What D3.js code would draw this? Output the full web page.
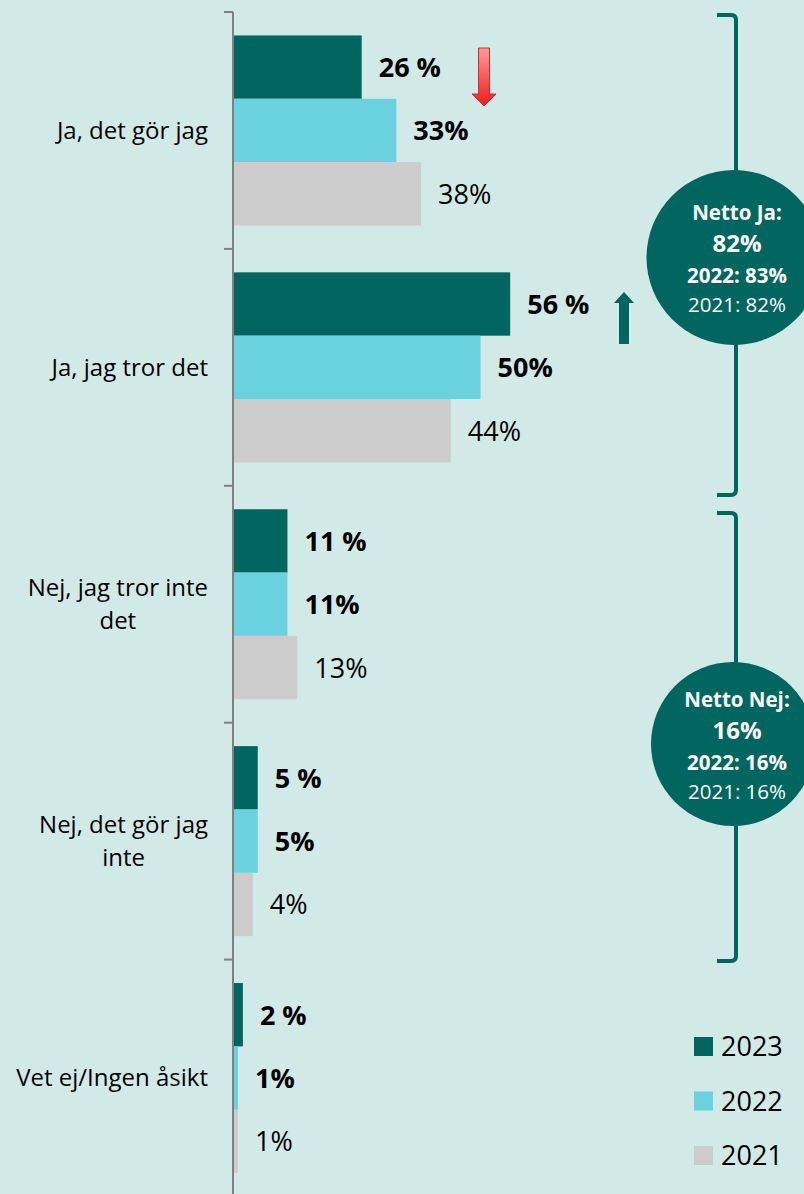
<!DOCTYPE html>
<html><head><meta charset="utf-8">
<script src="https://cdn.jsdelivr.net/npm/d3@7"></script>
<style>
html,body{margin:0;padding:0;background:#d2eae7;}
svg{display:block;font-family:"Open Sans",sans-serif;}
</style>
</head><body>
<svg id="c" width="804" height="1194"></svg>
<script>
// ---- data ----
const categories = ["Ja, det gör jag", "Ja, jag tror det", "Nej, jag tror inte det", "Nej, det gör jag inte", "Vet ej/Ingen åsikt"];
const years = ["2023", "2022", "2021"];
const values2023 = [26, 56, 11, 5, 2];
const values2022 = [33, 50, 11, 5, 1];
const values2021 = [38, 44, 13, 4, 1];
const nettoTitles = ["Netto Ja:", "Netto Nej:"];
const netto2023 = [82, 16];
const netto2022 = [83, 16];
const netto2021 = [82, 16];

// ---- styling ----
const colors = {"2023": "#01665f", "2022": "#6ad2de", "2021": "#cccccc"};
const teal = "#01665f";
const W = 804, H = 1194;

const svg = d3.select("#c");
svg.append("rect").attr("width", W).attr("height", H).attr("fill", "#d2eae7");

const defs = svg.append("defs");
const grad = defs.append("linearGradient").attr("id", "redg").attr("x1", 0).attr("y1", 0).attr("x2", 0).attr("y2", 1);
grad.append("stop").attr("offset", "0%").attr("stop-color", "#ff9a9a");
grad.append("stop").attr("offset", "100%").attr("stop-color", "#ee1c1c");

const x = d3.scaleLinear().domain([0, 100]).range([233, 728]);
const y = d3.scaleBand().domain(categories).range([12, 1196.5]).padding(0);
const yi = d3.scaleBand().domain(years).range([0, y.bandwidth()]).paddingInner(0).paddingOuter(0.37);

const series = years.map((yr, k) => ({
  year: yr,
  values: [values2023, values2022, values2021][k]
}));

// bars
const g = svg.append("g");
series.forEach(s => {
  g.selectAll(null).data(categories).enter().append("rect")
    .attr("x", x(0))
    .attr("y", (c) => y(c) + yi(s.year))
    .attr("width", (c, i) => x(s.values[i]) - x(0))
    .attr("height", yi.bandwidth())
    .attr("fill", colors[s.year]);
});

// axis
const ax = svg.append("g");
ax.append("line").attr("x1", 233).attr("x2", 233).attr("y1", y(categories[0])).attr("y2", H)
  .attr("stroke", "#808080").attr("stroke-width", 2);
const tickYs = categories.map(c => y(c));
ax.selectAll(null).data(tickYs).enter().append("line")
  .attr("x1", 224).attr("x2", 233).attr("y1", d => d).attr("y2", d => d)
  .attr("stroke", "#808080").attr("stroke-width", 2);

// data labels
series.forEach(s => {
  g.selectAll(null).data(categories).enter().append("text")
    .attr("x", (c, i) => x(s.values[i]) + 17)
    .attr("y", c => y(c) + yi(s.year) + yi.bandwidth() / 2)
    .attr("dy", "0.37em")
    .attr("font-size", 27)
    .attr("font-weight", s.year === "2021" ? 400 : 700)
    .attr("fill", "#000")
    .text((c, i) => s.year === "2023" ? s.values[i] + " %" : s.values[i] + "%");
});

// category labels (wrapped, centred lines, right edge at 208)
const lab = svg.append("g").attr("font-size", 24).attr("fill", "#000");
categories.forEach(c => {
  const words = c.split(" ");
  const t = lab.append("text").attr("x", 0).attr("y", 0);
  const lines = [];
  let cur = [];
  words.forEach(w => {
    cur.push(w);
    t.text(cur.join(" "));
    if (t.node().getComputedTextLength() > 192 && cur.length > 1) {
      cur.pop();
      lines.push(cur.join(" "));
      cur = [w];
    }
  });
  lines.push(cur.join(" "));
  t.text(lines[0]);
  const w0 = t.node().getComputedTextLength();
  t.remove();
  const cx = 208 - w0 / 2;
  const cy = y(c) + y.bandwidth() / 2;
  const lh = 33;
  lines.forEach((ln, k) => {
    lab.append("text")
      .attr("x", cx)
      .attr("y", cy + (k - (lines.length - 1) / 2) * lh)
      .attr("dy", "0.35em")
      .attr("text-anchor", "middle")
      .text(ln);
  });
});

// change arrows
function arrow(cx, top, bottom, dir, shaftW, headW, headH, fill, stroke) {
  let pts;
  if (dir === "down") {
    pts = [[cx - shaftW/2, top], [cx + shaftW/2, top], [cx + shaftW/2, bottom - headH], [cx + headW/2, bottom - headH],
           [cx, bottom], [cx - headW/2, bottom - headH], [cx - shaftW/2, bottom - headH]];
  } else {
    pts = [[cx - shaftW/2, bottom], [cx + shaftW/2, bottom], [cx + shaftW/2, top + headH], [cx + headW/2, top + headH],
           [cx, top], [cx - headW/2, top + headH], [cx - shaftW/2, top + headH]];
  }
  svg.append("polygon").attr("points", pts.map(p => p.join(",")).join(" "))
    .attr("fill", fill).attr("stroke", stroke || "none").attr("stroke-width", 1);
}
arrow(484, 48, 106, "down", 11, 24, 12, "url(#redg)", "#d42a2a");
arrow(624, 292, 344, "up", 10, 20, 11, teal, null);

// brackets
function bracket(top, bottom) {
  const xr = 736, xl = 717, r = 5;
  svg.append("path")
    .attr("d", `M${xl},${top} L${xr - r},${top} Q${xr},${top} ${xr},${top + r} L${xr},${bottom - r} Q${xr},${bottom} ${xr - r},${bottom} L${xl},${bottom}`)
    .attr("fill", "none").attr("stroke", teal).attr("stroke-width", 4);
}
bracket(15, 495);
bracket(513, 961);

// netto circles
const circles = [{cx: 734, cy: 257.5, r: 87.5}, {cx: 733, cy: 744, r: 82}];
circles.forEach((cc, i) => {
  svg.append("circle").attr("cx", cc.cx).attr("cy", cc.cy).attr("r", cc.r).attr("fill", teal);
  const tx = 737;
  const rows = [
    {t: nettoTitles[i], dy: -37.5, fs: 20.5, fw: 700},
    {t: netto2023[i] + "%", dy: -5.5, fs: 24, fw: 700},
    {t: "2022: " + netto2022[i] + "%", dy: 25.5, fs: 20.5, fw: 700},
    {t: "2021: " + netto2021[i] + "%", dy: 54.5, fs: 20.5, fw: 400}
  ];
  rows.forEach(rw => {
    svg.append("text").attr("x", tx).attr("y", cc.cy + rw.dy)
      .attr("text-anchor", "middle").attr("fill", "#fff")
      .attr("font-size", rw.fs).attr("font-weight", rw.fw).text(rw.t);
  });
});

// legend
const leg = svg.append("g");
years.forEach((yr, k) => {
  const ly = 1046.5 + k * 54.5;
  leg.append("rect").attr("x", 694).attr("y", ly - 9.5).attr("width", 19).attr("height", 19).attr("fill", colors[yr]);
  leg.append("text").attr("x", 721).attr("y", ly).attr("dy", "0.36em")
    .attr("font-size", 27).attr("fill", "#000").text(yr);
});
</script>
</body></html>
